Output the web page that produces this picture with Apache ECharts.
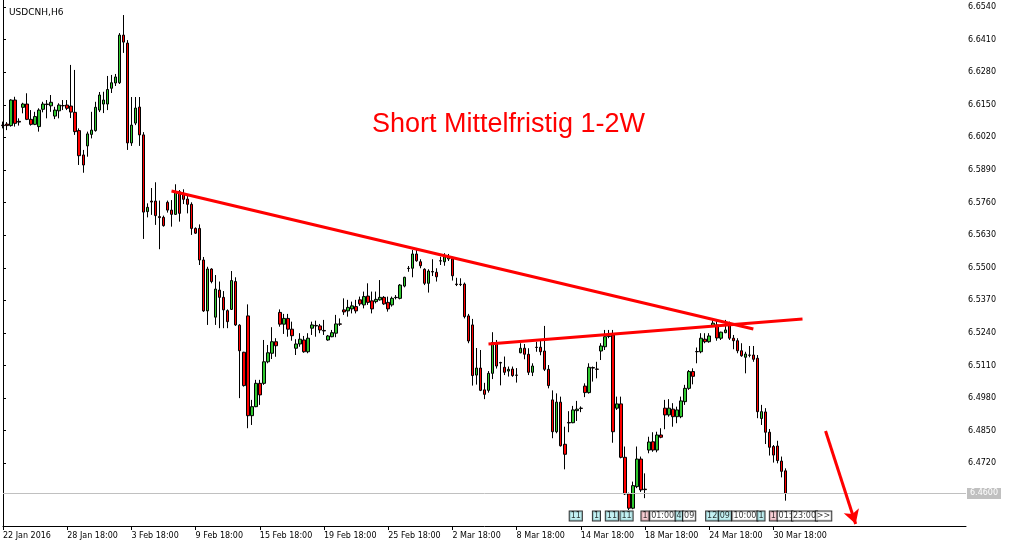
<!DOCTYPE html>
<html>
<head>
<meta charset="utf-8">
<script src="https://cdn.jsdelivr.net/npm/echarts@6/dist/echarts.min.js"></script>
<style>html,body{margin:0;padding:0;background:#fff}#c{width:1012px;height:547px}</style>
</head>
<body>
<div id="c"></div>
<script>
const symbolName = 'USDCNH,H6';
const noteText = 'Short Mittelfristig 1-2W';
const opens = [6.6069,6.6073,6.6067,6.6169,6.6084,6.6140,6.6153,6.6092,6.6072,6.6063,
6.6132,6.6153,6.6146,6.6105,6.6126,6.6147,6.6149,6.6145,6.6120,6.6047,
6.5950,6.5986,6.6032,6.6047,6.6129,6.6153,6.6153,6.6216,6.6237,6.6238,
6.6428,6.6396,6.5998,6.6077,6.6141,6.6030,6.5724,6.5766,6.5766,6.5704,
6.5701,6.5761,6.5730,6.5713,6.5803,6.5797,6.5774,6.5753,6.5657,6.5657,
6.5531,6.5328,6.5495,6.5303,6.5411,6.5382,6.5329,6.5334,6.5445,6.5271,
6.5163,6.5308,6.4910,6.4946,6.5039,6.5039,6.5125,6.5159,6.5205,6.5322,
6.5275,6.5298,6.5255,6.5179,6.5196,6.5212,6.5165,6.5259,6.5270,6.5268,
6.5250,6.5212,6.5225,6.5239,6.5276,6.5332,6.5328,6.5336,6.5345,6.5372,
6.5352,6.5387,6.5368,6.5365,6.5372,6.5382,6.5362,6.5352,6.5382,6.5378,
6.5427,6.5498,6.5498,6.5555,6.5524,6.5494,6.5438,6.5485,6.5482,6.5528,
6.5524,6.5535,6.5535,6.5435,6.5434,6.5435,6.5308,6.5272,6.5072,6.5100,
6.5013,6.5011,6.5079,6.5199,6.5122,6.5103,6.5088,6.5096,6.5072,6.5161,
6.5179,6.5155,6.5083,6.5183,6.5183,6.5168,6.5095,6.4973,6.4846,6.4964,
6.4796,6.4883,6.4882,6.4930,6.4940,6.5028,6.5002,6.5102,6.5096,6.5168,
6.5185,6.5226,6.5232,6.4940,6.4957,6.4744,6.4598,6.4541,6.4627,6.4737,
6.4617,6.4773,6.4806,6.4773,6.4833,6.4940,6.4913,6.4936,6.4906,6.4906,
6.4966,6.5019,6.5086,6.5166,6.5165,6.5215,6.5205,6.5268,6.5272,6.5219,
6.5241,6.5272,6.5219,6.5209,6.5169,6.5143,6.5152,6.5152,6.5139,6.4899,
6.4925,6.4844,6.4787,6.4789,6.4729,6.4690];
const closes = [6.6067,6.6067,6.6169,6.6076,6.6081,6.6153,6.6092,6.6072,6.6103,6.6129,
6.6153,6.6151,6.6160,6.6129,6.6149,6.6146,6.6136,6.6121,6.6043,6.5947,
6.5910,6.6034,6.6049,6.6140,6.6189,6.6169,6.6211,6.6238,6.6261,6.6428,
6.6400,6.5998,6.6069,6.6137,6.6030,6.5722,6.5741,6.5762,6.5708,6.5700,
6.5668,6.5730,6.5713,6.5801,6.5717,6.5773,6.5753,6.5657,6.5638,6.5531,
6.5328,6.5495,6.5445,6.5415,6.5382,6.5332,6.5285,6.5449,6.5272,6.5169,
6.5030,6.4910,6.4946,6.5039,6.4993,6.5125,6.5161,6.5205,6.5189,6.5275,
6.5298,6.5255,6.5229,6.5196,6.5215,6.5165,6.5219,6.5272,6.5268,6.5252,
6.5248,6.5228,6.5241,6.5276,6.5275,6.5324,6.5342,6.5348,6.5328,6.5356,
6.5385,6.5362,6.5336,6.5374,6.5382,6.5356,6.5336,6.5378,6.5381,6.5431,
6.5462,6.5497,6.5555,6.5528,6.5508,6.5438,6.5487,6.5483,6.5464,6.5527,
6.5544,6.5541,6.5468,6.5433,6.5433,6.5305,6.5208,6.5070,6.5100,6.5011,
6.4995,6.5079,6.5202,6.5108,6.5120,6.5083,6.5095,6.5070,6.5071,6.5179,
6.5155,6.5083,6.5108,6.5182,6.5165,6.5095,6.5030,6.4846,6.4964,6.4790,
6.4756,6.4881,6.4933,6.4936,6.4939,6.5002,6.5103,6.5100,6.5095,6.5188,
6.5225,6.5228,6.4846,6.4957,6.4744,6.4598,6.4541,6.4631,6.4737,6.4614,
6.4615,6.4805,6.4773,6.4833,6.4824,6.4913,6.4940,6.4906,6.4933,6.4969,
6.5019,6.5086,6.5067,6.5165,6.5219,6.5205,6.5228,6.5279,6.5220,6.5243,
6.5252,6.5219,6.5209,6.5169,6.5149,6.5156,6.5151,6.5135,6.4926,6.4926,
6.4844,6.4784,6.4753,6.4731,6.4688,6.4600];
const lows = [6.6056,6.6049,6.6063,6.6063,6.6067,6.6116,6.6089,6.6067,6.6069,6.6043,
6.6120,6.6096,6.6122,6.6093,6.6096,6.6129,6.6129,6.6097,6.6030,6.5910,
6.5879,6.5943,6.6016,6.6043,6.6121,6.6117,6.6129,6.6197,6.6225,6.6233,
6.6357,6.5970,6.5986,6.6069,6.5986,6.5615,6.5701,6.5711,6.5671,6.5574,
6.5664,6.5720,6.5664,6.5711,6.5684,6.5754,6.5717,6.5631,6.5635,6.5511,
6.5324,6.5272,6.5438,6.5272,6.5259,6.5259,6.5259,6.5332,6.5268,6.4980,
6.5026,6.4860,6.4873,6.4944,6.4953,6.5033,6.5119,6.5136,6.5145,6.5265,
6.5236,6.5225,6.5209,6.5152,6.5185,6.5161,6.5159,6.5232,6.5225,6.5239,
6.5232,6.5209,6.5223,6.5223,6.5268,6.5312,6.5305,6.5318,6.5318,6.5348,
6.5338,6.5352,6.5318,6.5358,6.5369,6.5352,6.5325,6.5345,6.5374,6.5374,
6.5422,6.5484,6.5462,6.5524,6.5498,6.5431,6.5401,6.5467,6.5445,6.5511,
6.5508,6.5527,6.5449,6.5427,6.5427,6.5298,6.5199,6.5030,6.5034,6.5008,
6.4976,6.5002,6.5056,6.5098,6.5031,6.5072,6.5066,6.5065,6.5042,6.5159,
6.5135,6.5072,6.5068,6.5165,6.5151,6.5088,6.5019,6.4820,6.4840,6.4787,
6.4696,6.4844,6.4880,6.4889,6.4924,6.4984,6.4998,6.5046,6.5059,6.5132,
6.5172,6.5219,6.4802,6.4933,6.4740,6.4594,6.4534,6.4537,6.4621,6.4606,
6.4581,6.4760,6.4766,6.4764,6.4820,6.4856,6.4906,6.4866,6.4880,6.4900,
6.4953,6.5013,6.5035,6.5119,6.5159,6.5199,6.5201,6.5265,6.5209,6.5212,
6.5239,6.5212,6.5175,6.5159,6.5145,6.5079,6.5143,6.5125,6.4900,6.4873,
6.4797,6.4751,6.4723,6.4720,6.4664,6.4571];
const highs = [6.6083,6.6081,6.6172,6.6182,6.6096,6.6158,6.6196,6.6129,6.6122,6.6136,
6.6162,6.6169,6.6189,6.6142,6.6156,6.6169,6.6169,6.6309,6.6289,6.6056,
6.5970,6.6043,6.6122,6.6162,6.6201,6.6202,6.6265,6.6269,6.6273,6.6436,
6.6508,6.6408,6.6181,6.6181,6.6181,6.6041,6.5757,6.5818,6.5841,6.5768,
6.5708,6.5768,6.5770,6.5833,6.5810,6.5813,6.5794,6.5761,6.5661,6.5673,
6.5543,6.5504,6.5498,6.5471,6.5445,6.5407,6.5334,6.5487,6.5462,6.5275,
6.5165,6.5354,6.4973,6.5053,6.5053,6.5212,6.5192,6.5263,6.5219,6.5334,
6.5316,6.5316,6.5285,6.5215,6.5239,6.5228,6.5239,6.5285,6.5289,6.5276,
6.5292,6.5232,6.5252,6.5312,6.5298,6.5378,6.5372,6.5365,6.5372,6.5385,
6.5405,6.5438,6.5405,6.5405,6.5451,6.5387,6.5385,6.5385,6.5391,6.5435,
6.5464,6.5507,6.5571,6.5571,6.5534,6.5498,6.5494,6.5534,6.5498,6.5544,
6.5558,6.5555,6.5544,6.5460,6.5458,6.5441,6.5316,6.5296,6.5180,6.5172,
6.5041,6.5088,6.5243,6.5212,6.5125,6.5146,6.5106,6.5106,6.5100,6.5199,
6.5196,6.5179,6.5119,6.5205,6.5212,6.5268,6.5112,6.5011,6.4999,6.4986,
6.4866,6.4928,6.4949,6.4969,6.4947,6.5039,6.5119,6.5106,6.5125,6.5199,
6.5252,6.5252,6.5252,6.4986,6.4986,6.4787,6.4603,6.4647,6.4787,6.4747,
6.4680,6.4826,6.4844,6.4846,6.4860,6.4973,6.4976,6.4960,6.4946,6.4986,
6.5033,6.5092,6.5099,6.5182,6.5239,6.5239,6.5239,6.5292,6.5292,6.5245,
6.5292,6.5285,6.5232,6.5219,6.5199,6.5165,6.5188,6.5188,6.5152,6.4953,
6.4940,6.4857,6.4793,6.4810,6.4747,6.4700];
const tickIndex = [0,16,32,48,64,80,96,112,128,144,160,176,192];
const tickLabels = ['22 Jan 2016','28 Jan 18:00','3 Feb 18:00','9 Feb 18:00','15 Feb 18:00','19 Feb 18:00','25 Feb 18:00','2 Mar 18:00','8 Mar 18:00','14 Mar 18:00','18 Mar 18:00','24 Mar 18:00','30 Mar 18:00'];
const priceTicks = [6.4720,6.4850,6.4980,6.5110,6.5240,6.5370,6.5500,6.5630,6.5760,6.5890,6.6020,6.6150,6.6280,6.6410,6.6540];
const lastPrice = 6.4600;
const slotCount = 241;
const trendDown = [[42, 6.5806], [187, 6.5256]];
const trendUp = [[121, 6.5196], [199.25, 6.5296]];
const arrowLine = [[205, 6.4849], [212.5, 6.4478]];
const notePos = [126, 6.6073];
const eventText = ['11','1','11','11','1','01:00','4','09','12','09','10:00','1','1','01:','23:00','>>'];
const eventPos = [142.75,147.9,151.75,155.4,160,164.4,168.5,171,176.75,179.9,184.9,188.9,192,194.9,199.75,204.5];
const eventKind = ['c','c','c','c','p','w','c','w','c','c','w','c','p','w','w','w'];
const eventLevel = 6.4510;

const FONT = 'DejaVu Sans';
const cats = Array.from({length: slotCount}, (_, i) => String(i));
const labelAt = {};
tickIndex.forEach((k, j) => { labelAt[k] = tickLabels[j]; });
const candles = opens.map((o, i) => [o, closes[i], lows[i], highs[i]]);
const kindBg = {c: '#b4eef0', p: '#f6c3cb', w: '#ffffff'};

const chart = echarts.init(document.getElementById('c'), null, {renderer: 'canvas'});
chart.setOption({
  animation: false,
  backgroundColor: '#ffffff',
  title: {text: symbolName, left: 4, top: 3, textStyle: {fontFamily: FONT, fontSize: 9, fontWeight: 'normal', color: '#000'}},
  grid: {left: 2, right: 46, top: 0, bottom: 21, containLabel: false},
  xAxis: [{
    type: 'category', data: cats, boundaryGap: false,
    axisLine: {show: true, lineStyle: {color: '#000', width: 1}},
    axisTick: {show: true, length: 4, interval: (i) => labelAt[i] !== undefined, lineStyle: {color: '#000'}},
    axisLabel: {show: true, interval: (i) => labelAt[i] !== undefined, formatter: (v, i) => labelAt[i] || '',
      align: 'left', margin: 6, fontFamily: FONT, fontSize: 8, color: '#000'},
    splitLine: {show: false}
  }, {
    type: 'value', min: 0, max: slotCount - 1, show: false
  }],
  yAxis: [{
    type: 'value', position: 'right', min: 6.4470, max: 6.6568, scale: true,
    axisLine: {show: true, lineStyle: {color: '#000', width: 1}},
    axisTick: {show: true, length: 3, customValues: priceTicks, lineStyle: {color: '#000'}},
    axisLabel: {show: true, customValues: priceTicks, formatter: (v) => v.toFixed(4), margin: 2,
      fontFamily: FONT, fontSize: 8, color: '#000'},
    splitLine: {show: false}
  }, {
    type: 'value', position: 'left', min: 6.4470, max: 6.6568,
    axisLine: {show: true, lineStyle: {color: '#000', width: 1}},
    axisTick: {show: false}, axisLabel: {show: false}, splitLine: {show: false}
  }],
  series: [{
    type: 'candlestick', xAxisIndex: 0, yAxisIndex: 0, data: candles, barWidth: 3,
    itemStyle: {color: '#2fc82f', color0: '#ff0000', borderColor: '#000', borderColor0: '#000', borderColorDoji: '#000', borderWidth: 1},
    markLine: {
      silent: true, symbol: 'none', animation: false,
      lineStyle: {color: '#c0c0c0', width: 1, type: 'solid'},
      label: {show: true, position: 'end', formatter: () => lastPrice.toFixed(4), backgroundColor: '#c0c0c0', color: '#fff',
        fontFamily: FONT, fontSize: 8, padding: [2, 3, 1, 3], distance: 1},
      data: [{yAxis: lastPrice}]
    }
  }, {
    type: 'line', xAxisIndex: 1, yAxisIndex: 0, data: [], silent: true,
    markLine: {
      silent: true, animation: false, symbol: ['none', 'none'],
      lineStyle: {color: '#ff0000', width: 3, type: 'solid'},
      label: {show: false},
      data: [
        [{coord: trendDown[0]}, {coord: trendDown[1]}],
        [{coord: trendUp[0]}, {coord: trendUp[1]}],
        [{coord: arrowLine[0], symbol: 'none'}, {coord: arrowLine[1], symbol: 'arrow', symbolSize: [12, 14]}]
      ]
    },
    markPoint: {
      silent: true, animation: false, symbol: 'circle', symbolSize: 0,
      label: {show: true, position: 'inside', formatter: noteText, color: '#ff0000', fontFamily: 'Liberation Sans', fontSize: 27},
      data: [{coord: notePos}]
    }
  }, {
    type: 'scatter', xAxisIndex: 1, yAxisIndex: 0, symbolSize: 0, silent: true,
    data: eventPos.map((x, i) => ({
      value: [x, eventLevel],
      label: {show: true, position: 'inside', formatter: eventText[i], color: '#000', fontFamily: FONT, fontSize: 8,
        backgroundColor: kindBg[eventKind[i]], borderColor: '#000', borderWidth: 1, padding: [1, 1, 0, 1]}
    }))
  }]
});
</script>
</body>
</html>
